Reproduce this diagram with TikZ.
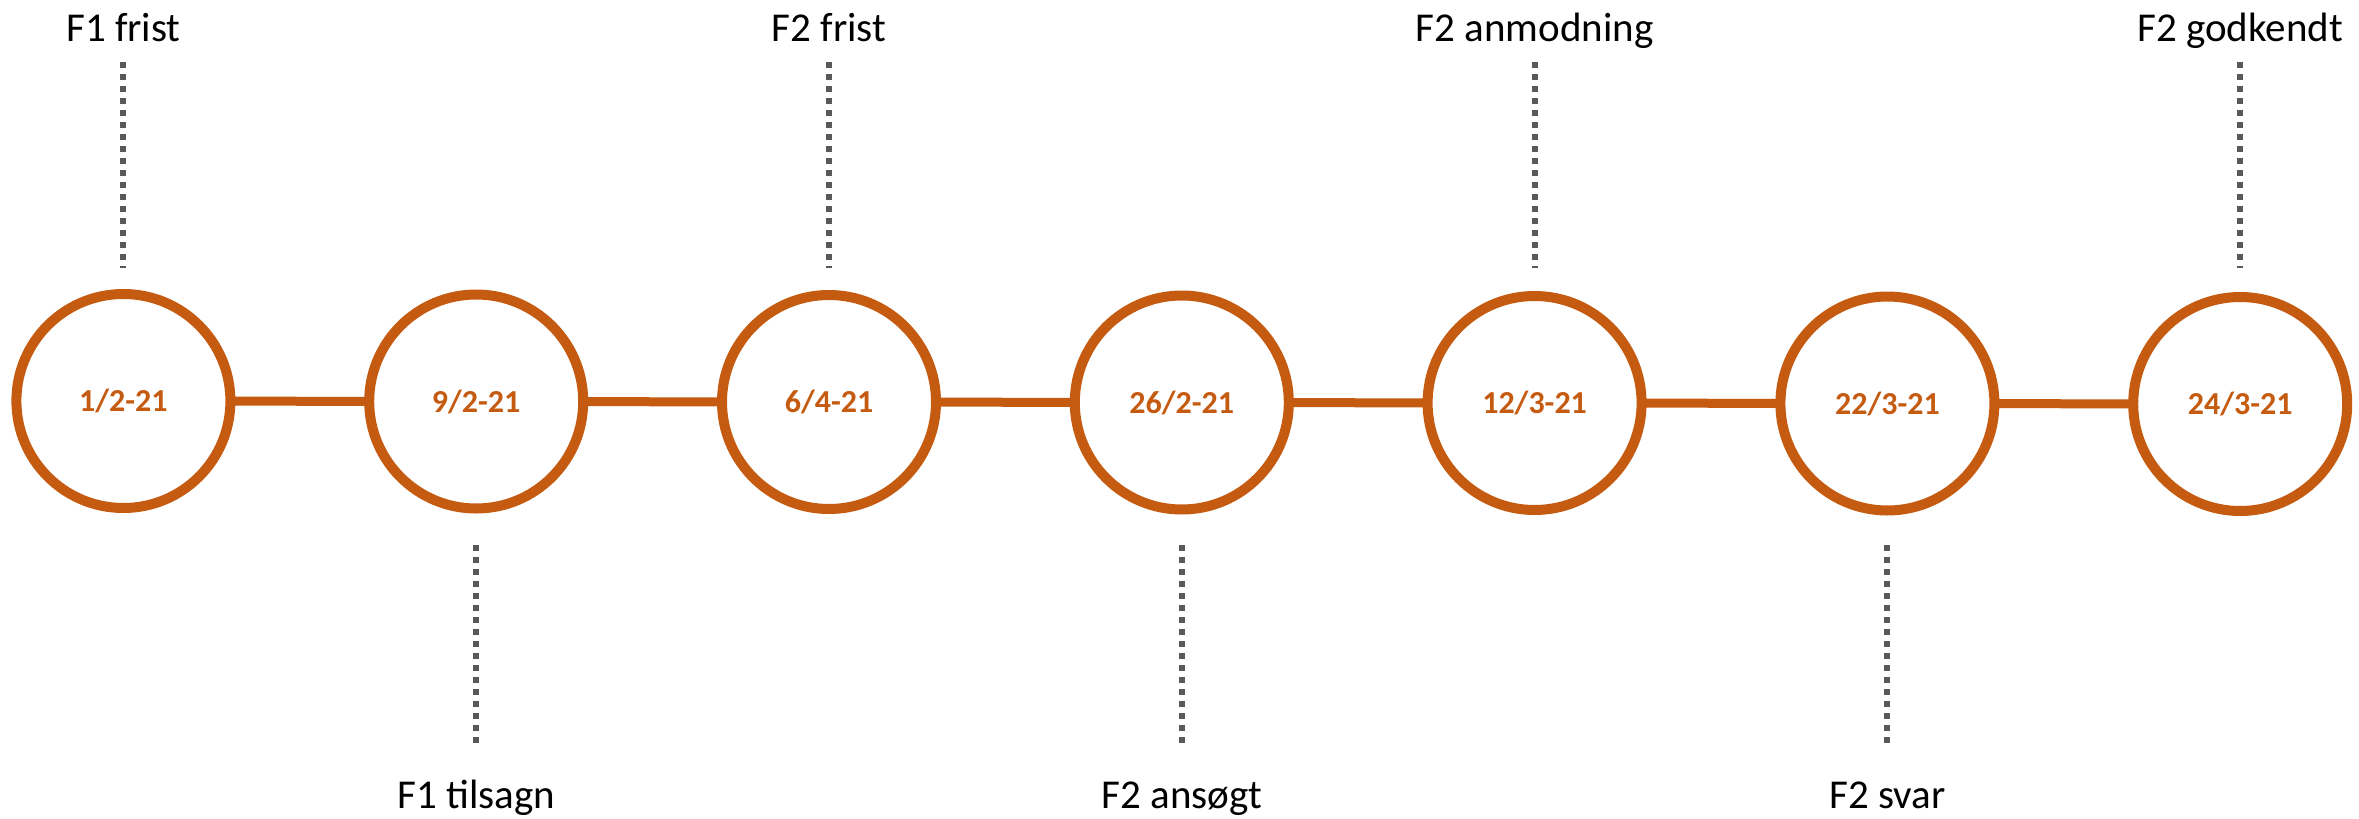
\documentclass[tikz,border=0pt]{standalone}
\usepackage{fontspec}
\setmainfont{Carlito}
\definecolor{accent}{HTML}{C55A11}
\definecolor{leader}{HTML}{595959}
\begin{document}
\begin{tikzpicture}[x=1pt,y=-1pt,
  event/.style={circle,draw=accent,line width=10pt,fill=white,minimum size=214pt,inner sep=0pt,
    text=accent,font=\fontsize{32}{36}\selectfont\bfseries},
  link/.style={draw=accent,line width=9pt},
  leaderline/.style={draw=leader,line width=6pt,dash pattern=on 6pt off 6pt},
  caption/.style={anchor=base,font=\fontsize{41}{48}\selectfont,text=black,inner sep=0pt}]
\useasboundingbox (0,0) rectangle (2359,819);
% timeline events
\foreach \n/\d [count=\i from 0] in {a/1\slash 2-21,b/9\slash 2-21,c/6\slash 4-21,d/26\slash 2-21,e/12\slash 3-21,f/22\slash 3-21,g/24\slash 3-21}{
  \coordinate (p\n) at ({123.4+352.8*\i},{401+0.5*\i});
}
% links between consecutive events
\draw[link] (pa) -- (pb) -- (pc) -- (pd) -- (pe) -- (pf) -- (pg);
\node[event] (a) at (pa) {1/2-21};
\node[event] (b) at (pb) {9/2-21};
\node[event] (c) at (pc) {6/4-21};
\node[event] (d) at (pd) {26/2-21};
\node[event] (e) at (pe) {12/3-21};
\node[event] (f) at (pf) {22/3-21};
\node[event] (g) at (pg) {24/3-21};
% labels above
\foreach \n/\t in {a/F1 frist,c/F2 frist,e/F2 anmodning,g/F2 godkendt}{
  \coordinate (t\n1) at (p\n |- 0,62);
  \coordinate (t\n2) at (p\n |- 0,268);
  \draw[leaderline] (t\n1) -- (t\n2);
  \node[caption] (l\n) at (p\n |- 0,41) {\t};
}
% labels below
\foreach \n/\t in {b/F1 tilsagn,d/F2 ansøgt,f/F2 svar}{
  \coordinate (t\n1) at (p\n |- 0,545);
  \coordinate (t\n2) at (p\n |- 0,748);
  \draw[leaderline] (t\n1) -- (t\n2);
  \node[caption] (l\n) at (p\n |- 0,808) {\t};
}
\end{tikzpicture}
\end{document}
